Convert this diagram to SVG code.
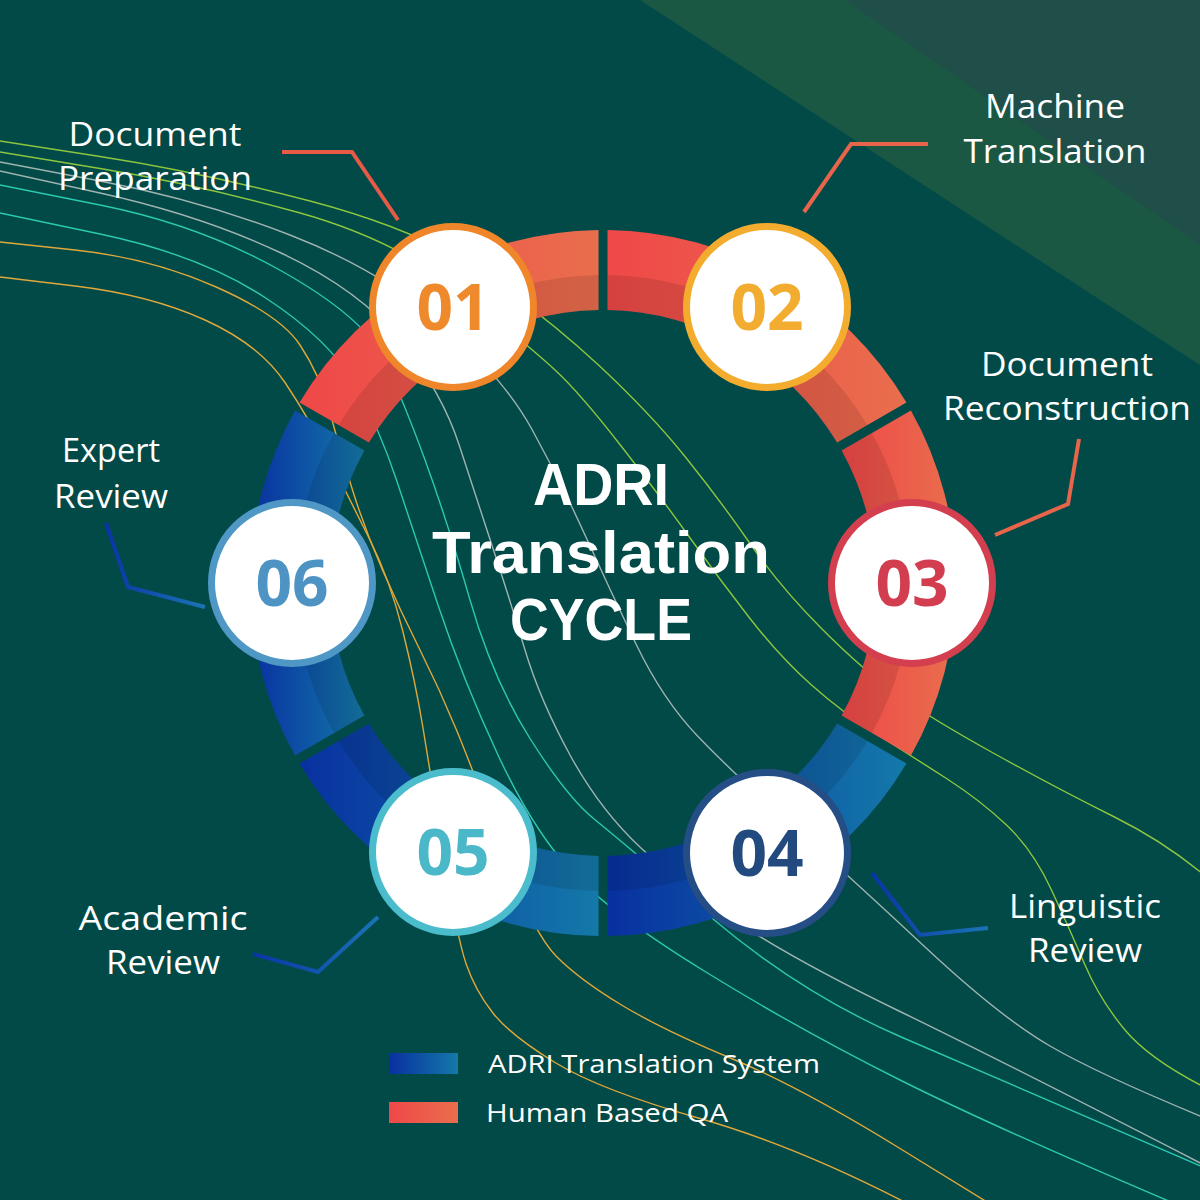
<svg xmlns="http://www.w3.org/2000/svg" width="1200" height="1200" viewBox="0 0 1200 1200">
<defs>
<linearGradient id="gRed" x1="0" y1="0" x2="1" y2="0"><stop offset="0" stop-color="#ef4848"/><stop offset="1" stop-color="#e96e4d"/></linearGradient>
<linearGradient id="gBlue" x1="0" y1="0" x2="1" y2="0"><stop offset="0" stop-color="#0830a0"/><stop offset="1" stop-color="#1479a9"/></linearGradient>
<linearGradient id="gLead" x1="0" y1="0" x2="1" y2="0"><stop offset="0" stop-color="#0a34a6"/><stop offset="1" stop-color="#1a74b4"/></linearGradient>
<style>
.wave{fill:none;stroke-width:1.4}
.wg{stroke:#8cc63f}
.wc{stroke:#2cc9b0}
.ww{stroke:#9fb3b0}
.wo{stroke:#e0a83a}
.red{fill:url(#gRed)}
.blue{fill:url(#gBlue)}
.shade{fill:#000;opacity:0.1}
.node{fill:#fff;stroke-width:7}
.num{font-family:"Open Sans","DejaVu Sans",sans-serif;font-weight:700;font-size:64px;text-anchor:middle}
.lbl{font-family:"Open Sans","Liberation Sans",sans-serif;font-weight:400;font-size:32px;fill:#fff;text-anchor:middle}
.title{font-family:"Liberation Sans",Arial,sans-serif;font-weight:700;font-size:60px;fill:#fff;text-anchor:middle}
.lead{fill:none;stroke-width:4;stroke-linejoin:miter}
.leg{font-family:"Open Sans","Liberation Sans",sans-serif;font-weight:400;font-size:26px;fill:#fff}
</style>
</defs>
<rect x="0" y="0" width="1200" height="1200" fill="#024a48"/>
<polygon points="640,0 1200,0 1200,365" fill="#1b5844"/>
<polygon points="845,0 1200,0 1200,245" fill="#1f4f48"/>

<g id="background-lines">
<path class="wave wg" d="M0,141 L100,156.5 Q200,172 310,201 Q420,230 483.5,273.5 Q547,317 598.5,365 Q650,413 685,456.5 Q720,500 750,543.5 Q780,587 821.5,628.5 Q863,670 896.5,694 Q930,718 995,754 Q1060,790 1113.5,816.5 Q1167,843 1210,880"/>
<path class="wave wg" d="M0,152 L100,168.5 Q200,185 298.5,212.5 Q397,240 463.5,293.5 Q530,347 555,370 Q580,393 621.5,446.5 Q663,500 691.5,540 Q720,580 750,618.5 Q780,657 811.5,685 Q843,713 878,735 Q913,757 946.5,778.5 Q980,800 1006.5,825 Q1033,850 1051.5,890 Q1070,930 1085,965 Q1100,1000 1125,1030 Q1150,1060 1210,1090"/>
<path class="wave ww" d="M0,162 L100,181 Q200,200 290,235 Q380,270 441.5,323.5 Q503,377 531.5,428.5 Q560,480 585,535 Q610,590 636.5,645 Q663,700 698,736.5 Q733,773 791.5,825 Q850,877 925,947 Q1000,1017 1050,1046 Q1100,1075 1210,1120"/>
<path class="wave ww" d="M0,171 L100,193 Q200,215 280,252.5 Q360,290 401,341 Q442,392 459.5,446 Q477,500 493.5,550 Q510,600 525,650 Q540,700 570,755 Q600,810 641.5,848.5 Q683,887 741.5,925 Q800,963 900,1011.5 Q1000,1060 1210,1168"/>
<path class="wave wc" d="M0,185 L100,205 Q200,225 281.5,271 Q363,317 382.5,357 Q402,397 424.5,458.5 Q447,520 470,600 Q493,680 530,738.5 Q567,797 593.5,818.5 Q620,840 710,916.5 Q800,993 900,1036.5 Q1000,1080 1210,1170"/>
<path class="wave wc" d="M0,213 L100,234 Q200,255 265,297.5 Q330,340 355,385 Q380,430 396.5,480 Q413,530 438,605 Q463,680 498,755 Q533,830 571.5,871.5 Q610,913 705,971.5 Q800,1030 900,1080 Q1000,1130 1190,1210"/>
<path class="wave wo" d="M0,242 L75,250 Q150,258 215,286.5 Q280,315 300,345 Q320,375 330,412.5 Q340,450 352.5,490 Q365,530 382.5,570 Q400,610 420,650 Q440,690 456.5,730 Q473,770 503,851.5 Q533,933 556.5,956.5 Q580,980 621.5,1005 Q663,1030 731.5,1058.5 Q800,1087 900,1148.5 L1000,1210"/>
<path class="wave wo" d="M0,277 L75,286 Q150,295 205,320 Q260,345 285,382.5 Q310,420 330,460 Q350,500 370,540 Q390,580 402.5,630 Q415,680 422.5,725 Q430,770 443.5,853.5 Q457,937 466,963.5 Q475,990 492.5,1012.5 Q510,1035 555,1062.5 Q600,1090 700,1118.5 Q800,1147 920,1210"/>
</g>

<g id="ring">
<path class="red" d="M598.5,230.03 A353,353 0 0 0 299.57,402.61 L368.86,442.62 A273,273 0 0 1 598.5,310.04 Z"/>
<path class="shade" d="M598.5,275.03 A308,308 0 0 0 338.54,425.12 L368.86,442.62 A273,273 0 0 1 598.5,310.04 Z"/>
<path class="red" d="M906.43,402.61 A353,353 0 0 0 607.5,230.03 L607.5,310.04 A273,273 0 0 1 837.14,442.62 Z"/>
<path class="shade" d="M867.46,425.12 A308,308 0 0 0 607.5,275.03 L607.5,310.04 A273,273 0 0 1 837.14,442.62 Z"/>
<path class="red" d="M910.93,755.59 A353,353 0 0 0 910.93,410.41 L841.64,450.42 A273,273 0 0 1 841.64,715.58 Z"/>
<path class="shade" d="M871.96,733.08 A308,308 0 0 0 871.96,432.92 L841.64,450.42 A273,273 0 0 1 841.64,715.58 Z"/>
<path class="blue" d="M607.5,935.97 A353,353 0 0 0 906.43,763.39 L837.14,723.38 A273,273 0 0 1 607.5,855.96 Z"/>
<path class="shade" d="M607.5,890.97 A308,308 0 0 0 867.46,740.88 L837.14,723.38 A273,273 0 0 1 607.5,855.96 Z"/>
<path class="blue" d="M299.57,763.39 A353,353 0 0 0 598.5,935.97 L598.5,855.96 A273,273 0 0 1 368.86,723.38 Z"/>
<path class="shade" d="M338.54,740.88 A308,308 0 0 0 598.5,890.97 L598.5,855.96 A273,273 0 0 1 368.86,723.38 Z"/>
<path class="blue" d="M295.07,410.41 A353,353 0 0 0 295.07,755.59 L364.36,715.58 A273,273 0 0 1 364.36,450.42 Z"/>
<path class="shade" d="M334.04,432.92 A308,308 0 0 0 334.04,733.08 L364.36,715.58 A273,273 0 0 1 364.36,450.42 Z"/>
</g>

<g id="connectors">
<polyline class="lead" stroke="#e65a46" points="282,152 352,152 398,220"/>
<polyline class="lead" stroke="#e8644a" points="804,212 851,144 928,144"/>
<polyline class="lead" stroke="#e8644a" points="995,535 1068,504 1079,439"/>
<polyline class="lead" stroke="url(#gLead)" points="872,873 920,935 988,928"/>
<polyline class="lead" stroke="url(#gLead)" points="253,954 318,972 378,917"/>
<polyline class="lead" stroke="url(#gLead)" points="106,523 128,587 205,607"/>
</g>

<g id="node-01">
<circle class="node" cx="453" cy="307" r="80.5" stroke="#f0862a"/>
<text class="num" x="453" y="330" fill="#ef8a2c">01</text>
<text class="lbl" x="155" y="146" textLength="173" lengthAdjust="spacingAndGlyphs">Document</text>
<text class="lbl" x="155" y="190" textLength="194" lengthAdjust="spacingAndGlyphs">Preparation</text>
</g>
<g id="node-02">
<circle class="node" cx="767" cy="307" r="80.5" stroke="#f4ac2f"/>
<text class="num" x="767" y="330" fill="#f2ac30">02</text>
<text class="lbl" x="1055" y="118" textLength="140" lengthAdjust="spacingAndGlyphs">Machine</text>
<text class="lbl" x="1055" y="163" textLength="183" lengthAdjust="spacingAndGlyphs">Translation</text>
</g>
<g id="node-03">
<circle class="node" cx="912" cy="583" r="80.5" stroke="#d33f4e"/>
<text class="num" x="912" y="606" fill="#d23d4f">03</text>
<text class="lbl" x="1067" y="376" textLength="172" lengthAdjust="spacingAndGlyphs">Document</text>
<text class="lbl" x="1067" y="420" textLength="248" lengthAdjust="spacingAndGlyphs">Reconstruction</text>
</g>
<g id="node-04">
<circle class="node" cx="767" cy="853" r="80.5" stroke="#254d86"/>
<text class="num" x="767" y="876" fill="#234a7f">04</text>
<text class="lbl" x="1085" y="918" textLength="152" lengthAdjust="spacingAndGlyphs">Linguistic</text>
<text class="lbl" x="1085" y="962" textLength="114" lengthAdjust="spacingAndGlyphs">Review</text>
</g>
<g id="node-05">
<circle class="node" cx="453" cy="852" r="80.5" stroke="#4bbccc"/>
<text class="num" x="453" y="875" fill="#4ab8c8">05</text>
<text class="lbl" x="163" y="930" textLength="169" lengthAdjust="spacingAndGlyphs">Academic</text>
<text class="lbl" x="163" y="974" textLength="114" lengthAdjust="spacingAndGlyphs">Review</text>
</g>
<g id="node-06">
<circle class="node" cx="292" cy="583" r="80.5" stroke="#4f97c5"/>
<text class="num" x="292" y="606" fill="#4d93c3">06</text>
<text class="lbl" x="111" y="462" textLength="98" lengthAdjust="spacingAndGlyphs">Expert</text>
<text class="lbl" x="111" y="508" textLength="114" lengthAdjust="spacingAndGlyphs">Review</text>
</g>

<g id="title">
<text class="title" x="601" y="505" textLength="136" lengthAdjust="spacingAndGlyphs">ADRI</text>
<text class="title" x="601" y="573" textLength="338" lengthAdjust="spacingAndGlyphs">Translation</text>
<text class="title" x="601" y="640" textLength="182" lengthAdjust="spacingAndGlyphs">CYCLE</text>
</g>

<g id="legend">
<rect x="389" y="1053" width="69" height="21" fill="url(#gBlue)"/>
<rect x="389" y="1102" width="69" height="21" fill="url(#gRed)"/>
<text class="leg" x="488" y="1073" textLength="332" lengthAdjust="spacingAndGlyphs">ADRI Translation System</text>
<text class="leg" x="486" y="1122" textLength="242" lengthAdjust="spacingAndGlyphs">Human Based QA</text>
</g>
</svg>
